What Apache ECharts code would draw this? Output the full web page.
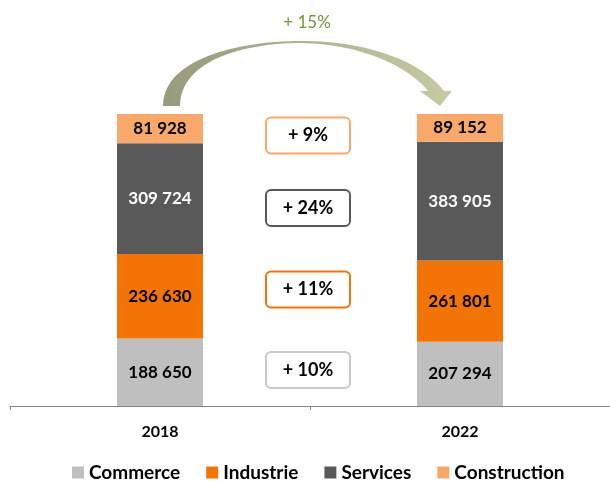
<!DOCTYPE html>
<html>
<head>
<meta charset="utf-8">
<script src="https://cdn.jsdelivr.net/npm/echarts@6/dist/echarts.min.js"></script>
<style>
    html, body { margin: 0; padding: 0; background: #fff; }
    #chart { width: 610px; height: 483px; }
</style>
</head>
<body>
<div id="chart"></div>
<script>
// data
const years = ['2018', '2022'];
const commerce = [188650, 207294];
const industrie = [236630, 261801];
const services = [309724, 383905];
const construction = [81928, 89152];

const seriesNames = ['Commerce', 'Industrie', 'Services', 'Construction'];
const seriesColors = ['#bfbfbf', '#f27407', '#595959', '#f9a86b'];
const labelColors = ['#000', '#000', '#fff', '#000'];
const boxColors = ['#c8c8c8', '#f27407', '#595959', '#f9a86b'];

const FONT = 'Lato';

const allValues = [commerce, industrie, services, construction];
const totals = years.map((_, i) => allValues.reduce((s, arr) => s + arr[i], 0));

// bars are drawn as a share of each year's total, labels show raw values
const fmt = v => String(v).replace(/\B(?=(\d{3})+(?!\d))/g, ' ');
const growth = (a, b) => '+ ' + Math.round((b / a - 1) * 100) + '%';

const chartDom = document.getElementById('chart');
const chart = echarts.init(chartDom);

const series = allValues.map((arr, k) => ({
    name: seriesNames[k],
    type: 'bar',
    stack: 'total',
    barWidth: 86,
    itemStyle: { color: seriesColors[k] },
    label: {
        show: true,
        position: 'inside',
        color: labelColors[k],
        fontFamily: FONT,
        fontWeight: 'bold',
        fontSize: 17,
        formatter: p => fmt(arr[p.dataIndex])
    },
    data: arr.map((v, i) => v / totals[i] * 100)
}));

const option = {
    animation: false,
    grid: { left: 10, right: -2, top: 114, bottom: 77 },
    legend: {
        data: seriesNames,
        top: 458,
        left: 67,
        itemWidth: 12,
        itemHeight: 12,
        itemGap: 26,
        icon: 'rect',
        textStyle: { fontFamily: FONT, fontWeight: 'bold', fontSize: 19, color: '#000' }
    },
    xAxis: {
        type: 'category',
        data: years,
        axisLine: { lineStyle: { color: '#868686', width: 1 } },
        axisTick: { show: true, length: 4, lineStyle: { color: '#868686' } },
        axisLabel: { margin: 18, fontFamily: FONT, fontWeight: 'bold', fontSize: 16, color: '#000' }
    },
    yAxis: {
        type: 'value',
        min: 0,
        max: 100,
        show: false
    },
    series: series
};

chart.setOption(option);

// curved arrow outline, sampled from cubic bezier pieces
function bez(p0, p1, p2, p3, n) {
    const pts = [];
    for (let i = 0; i <= n; i++) {
        const t = i / n, u = 1 - t;
        pts.push([
            u * u * u * p0[0] + 3 * u * u * t * p1[0] + 3 * u * t * t * p2[0] + t * t * t * p3[0],
            u * u * u * p0[1] + 3 * u * u * t * p1[1] + 3 * u * t * t * p2[1] + t * t * t * p3[1]
        ]);
    }
    return pts;
}
const arrowPts = [].concat(
    bez([163, 106], [163, 60], [235, 41], [302, 41], 30),
    bez([302, 41], [365, 41], [420, 60], [444, 91], 30),
    [[452, 91], [440, 106], [420, 91]],
    bez([428, 91], [408, 66], [360, 44], [302, 43], 30),
    bez([302, 43], [240, 43], [180, 62], [180, 106], 30)
);

// annotations: curved arrow, total growth, per-sector growth boxes
const midX = (chart.convertToPixel({ xAxisIndex: 0 }, 0) + chart.convertToPixel({ xAxisIndex: 0 }, 1)) / 2;
const boxY = [370, 289.5, 208, 135.5];

const graphics = [
    {
        type: 'polygon',
        shape: { points: arrowPts },
        style: {
            fill: {
                type: 'linear', x: 0, y: 0, x2: 1, y2: 0,
                colorStops: [{ offset: 0, color: '#979a7b' }, { offset: 1, color: '#c7cba4' }]
            }
        }
    },
    {
        type: 'text',
        x: midX - 3,
        y: 23,
        style: {
            text: growth(totals[0], totals[1]),
            fill: '#77933c',
            font: '17px ' + FONT,
            align: 'center',
            verticalAlign: 'middle'
        }
    }
];

allValues.forEach((arr, k) => {
    graphics.push({
        type: 'group',
        x: midX - 2,
        y: boxY[k],
        children: [
            {
                type: 'rect',
                shape: { x: -42, y: -18, width: 84, height: 36, r: 5 },
                style: { fill: '#fff', stroke: boxColors[k], lineWidth: 2 }
            },
            {
                type: 'text',
                style: {
                    text: growth(arr[0], arr[1]),
                    fill: '#000',
                    font: 'bold 18px ' + FONT,
                    align: 'center',
                    verticalAlign: 'middle'
                }
            }
        ]
    });
});

chart.setOption({ graphic: graphics });
</script>
</body>
</html>
